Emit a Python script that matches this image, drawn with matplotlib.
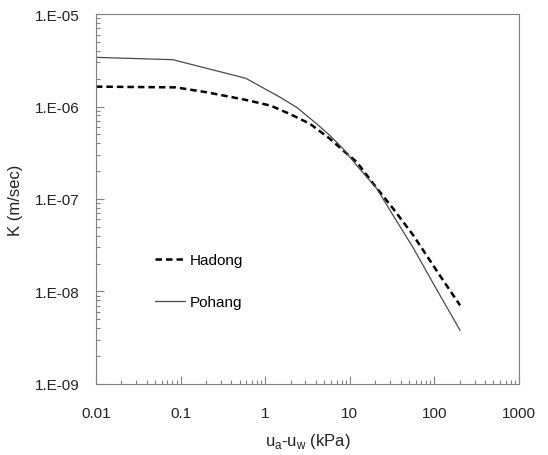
import numpy as np
import matplotlib
matplotlib.use('Agg')
import matplotlib.pyplot as plt
from matplotlib.ticker import FixedLocator, LogLocator, NullFormatter

plt.rcParams['font.family'] = ['Liberation Sans', 'DejaVu Sans']

# suction (kPa) vs. hydraulic conductivity (m/sec)
suction_hadong = [0.01, 0.088, 0.2, 0.59, 1.17, 1.96, 3.39, 5.84, 8.38, 12.1, 19.0, 32.7, 56.4, 116, 201]
k_hadong = [1.64e-6, 1.61e-6, 1.43e-6, 1.18e-6, 1.02e-6, 8.3e-7, 6.5e-7, 4.47e-7, 3.34e-7,
            2.51e-7, 1.46e-7, 7.83e-8, 4.04e-8, 1.49e-8, 7.08e-9]

suction_pohang = [0.01, 0.081, 0.59, 1.5, 2.36, 4.06, 5.84, 8.38, 12.1, 20.8, 32.7, 56.4, 97, 201]
k_pohang = [3.40e-6, 3.21e-6, 2.02e-6, 1.26e-6, 9.8e-7, 6.5e-7, 4.85e-7, 3.48e-7, 2.30e-7,
            1.30e-7, 6.6e-8, 2.95e-8, 1.22e-8, 3.8e-9]

x_ticks = [0.01, 0.1, 1, 10, 100, 1000]
x_labels = ['0.01', '0.1', '1', '10', '100', '1000']
y_ticks = [1e-9, 1e-8, 1e-7, 1e-6, 1e-5]
y_labels = ['1.E-09', '1.E-08', '1.E-07', '1.E-06', '1.E-05']

fig = plt.figure(figsize=(5.48, 4.56), dpi=100)
ax = fig.add_axes([0.175, 0.156, 0.772, 0.811])

ax.plot(suction_hadong, k_hadong, color='black', lw=1.8, ls=(0, (2.6, 1.6)), label='Hadong')
ax.plot(suction_pohang, k_pohang, color='#4a4a4a', lw=0.9, label='Pohang')

ax.set_xscale('log')
ax.set_yscale('log')
ax.set_xlim(0.01, 1000)
ax.set_ylim(1e-9, 1e-5)

ax.xaxis.set_major_locator(FixedLocator(x_ticks))
ax.set_xticklabels(x_labels)
ax.yaxis.set_major_locator(FixedLocator(y_ticks))
ax.set_yticklabels(y_labels)
ax.xaxis.set_minor_locator(LogLocator(base=10, subs=np.arange(2, 10)))
ax.yaxis.set_minor_locator(LogLocator(base=10, subs=np.arange(2, 10)))
ax.xaxis.set_minor_formatter(NullFormatter())
ax.yaxis.set_minor_formatter(NullFormatter())

for s in ax.spines.values():
    s.set_color('#808080')
ax.tick_params(which='both', direction='in', colors='#808080', labelcolor='#222222',
               labelsize=11, top=False, right=False)
ax.tick_params(which='major', length=6, width=0.8)
ax.tick_params(which='minor', length=3, width=0.8)
ax.tick_params(axis='x', which='major', pad=16)
ax.tick_params(axis='y', which='major', pad=12)

ax.set_xlabel(r'u$_\mathregular{a}$-u$_\mathregular{w}$ (kPa)', fontsize=12, color='#222222', labelpad=8)
ax.set_ylabel('K (m/sec)', fontsize=12, color='#222222', labelpad=8)

ax.legend(loc='upper left', bbox_to_anchor=(0.107, 0.391), frameon=False, fontsize=11,
          handlelength=2.0, handletextpad=0.3, labelspacing=1.86)

fig.savefig('out.png', dpi=100)
